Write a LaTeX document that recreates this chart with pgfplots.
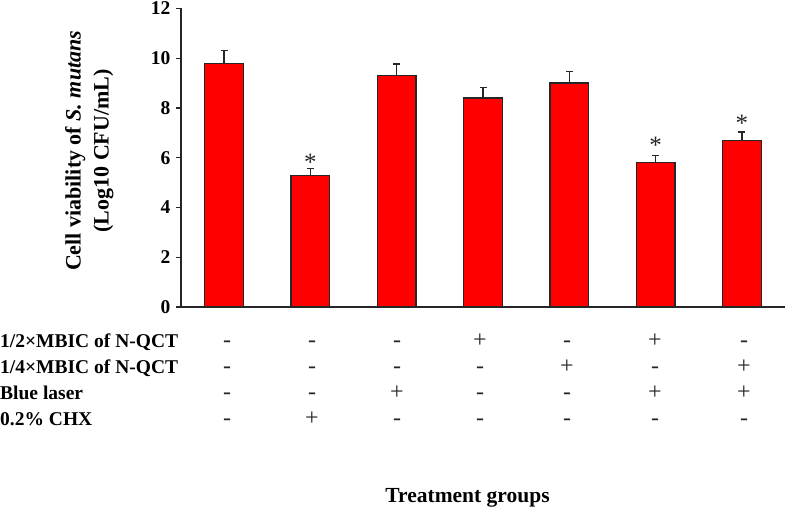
\documentclass[border=0pt]{standalone}
\usepackage{pgfplots}
\pgfplotsset{compat=1.18}
\usepackage{fontspec}
\setmainfont{Liberation Serif}
\begin{document}
\begin{tikzpicture}[x=1pt,y=1pt]
\useasboundingbox (0,0) rectangle (786,512);
\begin{axis}[
  at={(181pt,205pt)}, anchor=south west,
  scale only axis, width=604pt, height=298.5pt,
  xmin=-0.5, xmax=6.5, ymin=0, ymax=12,
  axis x line*=bottom, axis y line*=left,
  axis line style={-, line width=1.3pt, black!85},
  ytick={0,2,...,12},
  ytick pos=left, tick align=outside,
  major tick length=5pt,
  y tick style={line width=1.3pt, black!85},
  xtick=\empty,
  /pgf/number format/assume math mode=true,
  yticklabel style={font=\fontsize{19.5}{22}\selectfont\bfseries, xshift=-2pt},
  ylabel={Cell viability of \textit{S. mutans}\\(Log10 CFU/mL)},
  ylabel style={at={(axis description cs:-0.152,0.523)}, anchor=center, align=center,
     font=\fontsize{22}{28}\selectfont\bfseries},
  clip=false,
]
\addplot[ybar, bar width=0.45, fill=red, draw=black!85, line width=1.3pt,
  error bars/.cd, y dir=plus, y explicit,
  error bar style={line width=1.3pt, black!85},
  error mark options={rotate=90, line width=1.3pt, black!85, mark size=3.5pt}]
  table[x=x, y=y, y error=e] {
x y e
0 9.8 0.50
1 5.3 0.27
2 9.3 0.47
3 8.4 0.43
4 9.0 0.47
5 5.8 0.28
6 6.7 0.34
};
\addplot[draw=none, mark=none, nodes near coords={*},
  every node near coord/.append style={anchor=base, yshift=-12.5pt, inner sep=0pt,
     font=\fontsize{25}{27}\selectfont, text=black!85}]
  coordinates {(1,6.01) (5,6.68) (6,7.55)};
\end{axis}
\begin{scope}[font=\fontsize{19.5}{22}\selectfont\bfseries]
\node[anchor=base west, inner sep=0pt] at (0,165) {1/2×MBIC of N-QCT};
\node[anchor=base west, inner sep=0pt] at (0,139) {1/4×MBIC of N-QCT};
\node[anchor=base west, inner sep=0pt] at (0,113) {Blue laser};
\node[anchor=base west, inner sep=0pt] at (0,87) {0.2\% CHX};
\end{scope}
\begin{scope}[font=\fontsize{24}{26}\selectfont, every node/.style={anchor=base, inner sep=0pt, text=black!85}]
\foreach \x/\a/\b/\c/\d in {227/-/-/-/-, 312/-/-/-/+, 397/-/-/+/-, 480/+/-/-/-, 567/-/+/-/-, 655/+/-/+/-, 744/-/+/+/-}{
  \node at (\x,165) {\a};
  \node at (\x,139) {\b};
  \node at (\x,113) {\c};
  \node at (\x,87) {\d};
}
\end{scope}
\node[font=\fontsize{21.5}{24}\selectfont\bfseries, anchor=center] at (467.5,14) {Treatment groups};
\end{tikzpicture}
\end{document}
